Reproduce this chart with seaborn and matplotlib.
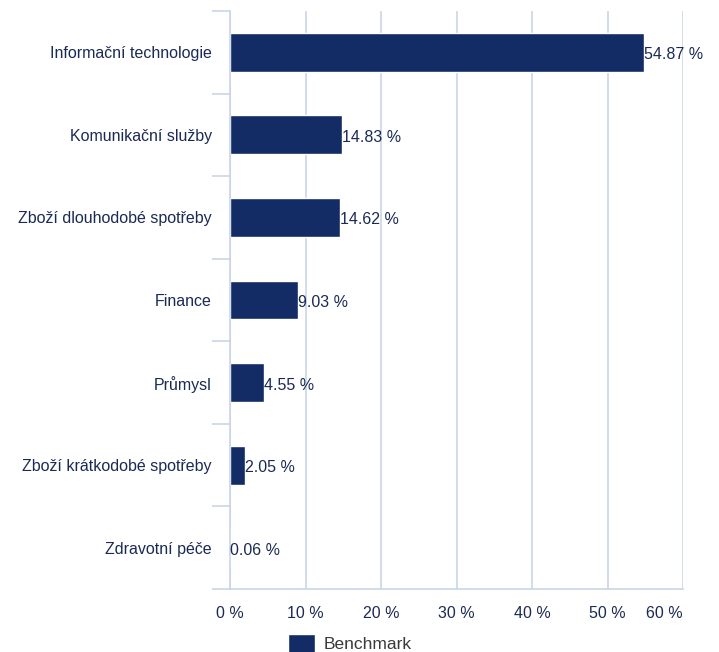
import numpy as np
import pandas as pd
import matplotlib.pyplot as plt
import seaborn as sns

sectors = ['Informační technologie', 'Komunikační služby', 'Zboží dlouhodobé spotřeby',
           'Finance', 'Průmysl', 'Zboží krátkodobé spotřeby', 'Zdravotní péče']
weights = [54.87, 14.83, 14.62, 9.03, 4.55, 2.05, 0.06]
xticks = [0, 10, 20, 30, 40, 50, 60]

navy = '#132c66'
text_c = '#1b2a55'
grid_c = '#c9d5e6'

sns.set_style('white')
plt.rcParams['font.family'] = ['Liberation Sans', 'DejaVu Sans']

df = pd.DataFrame({'sector': sectors, 'weight': weights})

fig = plt.figure(figsize=(7.19, 6.52), dpi=100)
ax = fig.add_axes([230 / 719, 1 - 589 / 652, 453 / 719, 578 / 652])

sns.barplot(data=df, x='weight', y='sector', orient='h', color=navy,
            width=0.47, saturation=1, ax=ax, label='Benchmark')

for i, v in enumerate(weights):
    ax.text(v, i + 0.03, f'{v:.2f} %', va='center', ha='left', fontsize=11.5, color=text_c)

ax.set_xlim(0, 60)
ax.set_ylim(len(sectors) - 0.5, -0.5)
ax.set_xticks(xticks)
ax.set_xticklabels([f'{t} %' for t in xticks], fontsize=11.5, color=text_c)
ax.get_xticklabels()[-1].set_ha('right')
ax.set_yticks(range(len(sectors)))
ax.set_yticklabels(sectors, fontsize=11.5, color=text_c)
ax.set_yticks(np.arange(-0.5, len(sectors), 1), minor=True)
ax.tick_params(axis='y', which='major', left=False, length=0, pad=13)
ax.tick_params(axis='y', which='minor', left=True, length=13, width=1.2, color=grid_c)
ax.tick_params(axis='x', length=0, pad=12)
ax.set_xlabel('')
ax.set_ylabel('')

ax.grid(axis='x', color=grid_c, linewidth=1.2)
ax.set_axisbelow(True)
for s in ['top', 'right']:
    ax.spines[s].set_visible(False)
for s in ['left', 'bottom']:
    ax.spines[s].set_color(grid_c)
    ax.spines[s].set_linewidth(1.2)

if ax.get_legend() is not None:
    ax.get_legend().remove()
handles, labels = ax.get_legend_handles_labels()
leg = fig.legend(handles[:1], ['Benchmark'], loc='upper left',
                 bbox_to_anchor=(272 / 719, 1 - 618 / 652), frameon=False,
                 fontsize=12.5, handlelength=1.6, handleheight=1.3, handletextpad=0.5)
for t in leg.get_texts():
    t.set_color('#3a3a3a')

fig.savefig('out.png', dpi=100)
